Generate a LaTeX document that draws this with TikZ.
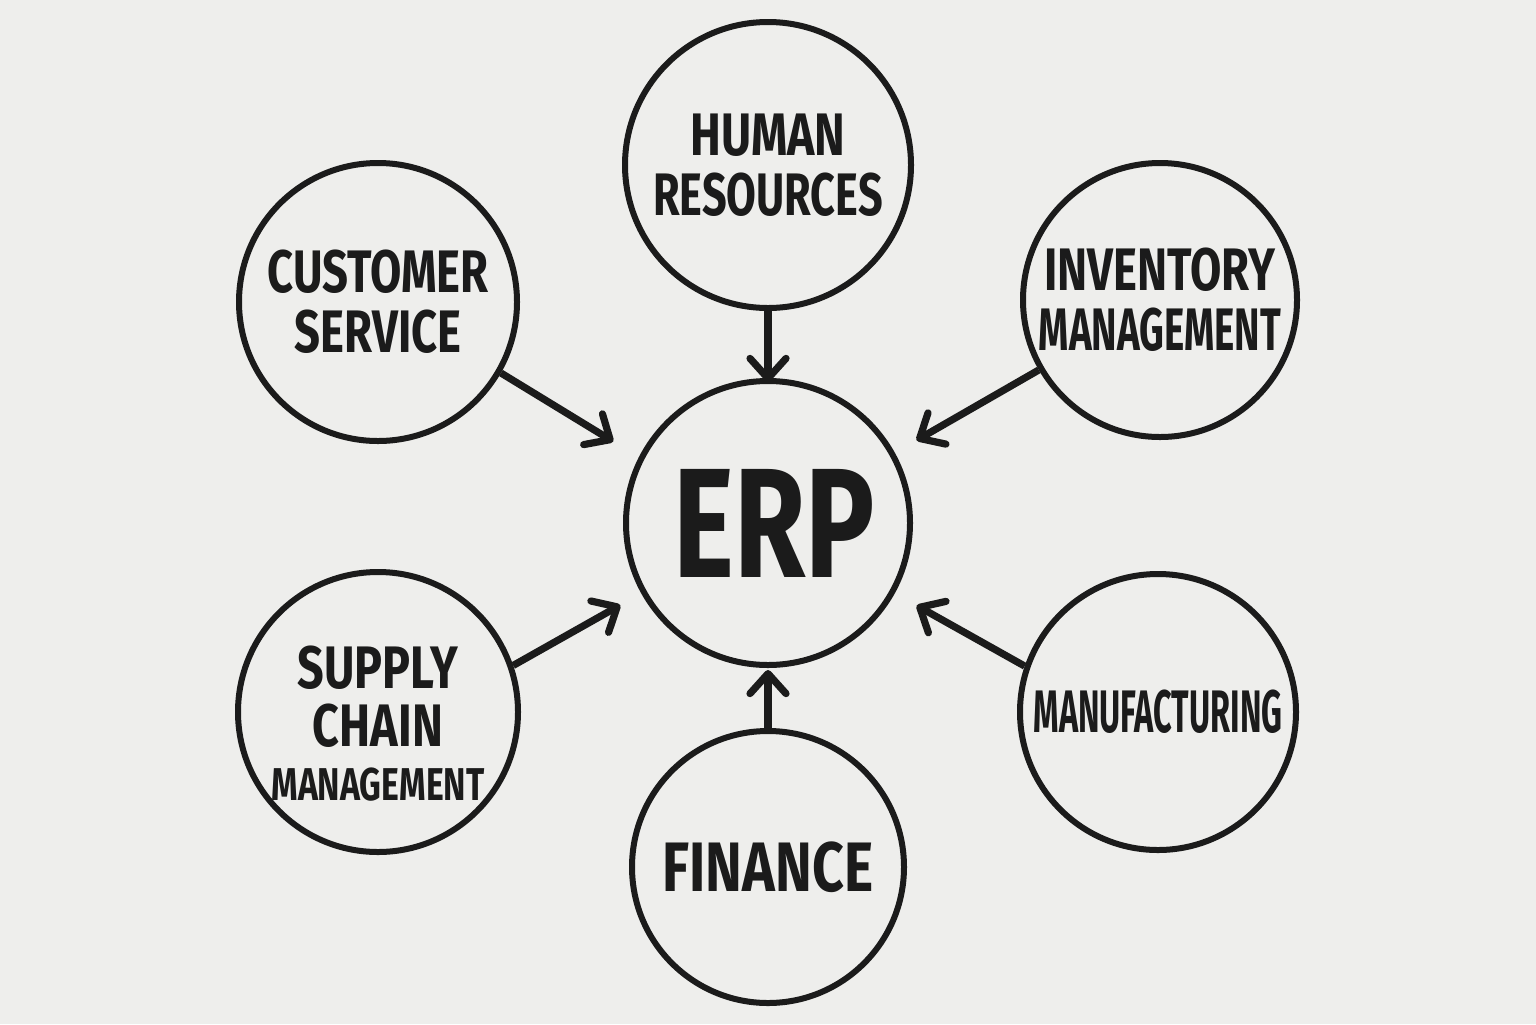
\documentclass[tikz,border=0pt]{standalone}
\usepackage{fontspec}
\setmainfont{Fira Sans}[UprightFont=* Bold, FakeStretch=0.72]
\usetikzlibrary{arrows.meta}
\definecolor{bg}{HTML}{EEEEEC}
\definecolor{ink}{HTML}{1B1B1B}
\newcommand{\hsq}[2]{\scalebox{#1}[1]{#2}}
\begin{document}
\begin{tikzpicture}[x=0.5pt,y=-0.5pt,
  module/.style={circle,draw=ink,line width=3pt,text=ink,align=center,
    font=\fontsize{30}{30}\selectfont,inner sep=0pt},
  arr/.style={draw=ink,line width=3.6pt,
    -{Straight Barb[length=10pt,width=18pt,round]}}]
\fill[bg] (0,0) rectangle (1536,1024);
\useasboundingbox (0,0) rectangle (1536,1024);
\node[module,minimum size=142pt,font=\fontsize{78}{78}\selectfont] (erp) at (768,523) {\kern6pt\hsq{1.03}{ERP}};
\node[module,minimum size=143pt] (hr) at (768,165) {\hsq{1.07}{HUMAN}\\RESOURCES};
\node[module,minimum size=139pt] (cs) at (378,302) {\hsq{1.05}{CUSTOMER}\\\hsq{1.05}{SERVICE}};
\node[module,minimum size=137pt] (inv) at (1160,300) {\hsq{1.05}{INVENTORY}\\\hsq{0.89}{MANAGEMENT}};
\node[module,minimum size=140pt,font=\fontsize{30}{29}\selectfont] (sc) at (378,712) {\rule{0pt}{33pt}\hsq{1.08}{SUPPLY}\\\hsq{1.08}{CHAIN}\\[-2pt]{\fontsize{23}{26}\selectfont\hsq{1.02}{MANAGEMENT}}};
\node[module,minimum size=138pt] (mf) at (1158,712) {\hsq{0.75}{MANUFACTURING}};
\node[module,minimum size=136pt,font=\fontsize{35}{35}\selectfont] (fin) at (768,867) {\hsq{1.10}{FINANCE}};
\draw[arr,shorten >=-2pt] (hr) -- (erp);
\draw[arr,shorten >=1pt] (fin) -- (erp);
\draw[arr,shorten >=15pt] (cs.-30) -- (erp.153);
\draw[arr,shorten >=12.5pt] (inv.210) -- (erp.29);
\draw[arr,shorten >=12pt] (sc.19) -- (erp.209);
\draw[arr,shorten >=12.5pt] (mf.161) -- (erp.-29);
\end{tikzpicture}
\end{document}
